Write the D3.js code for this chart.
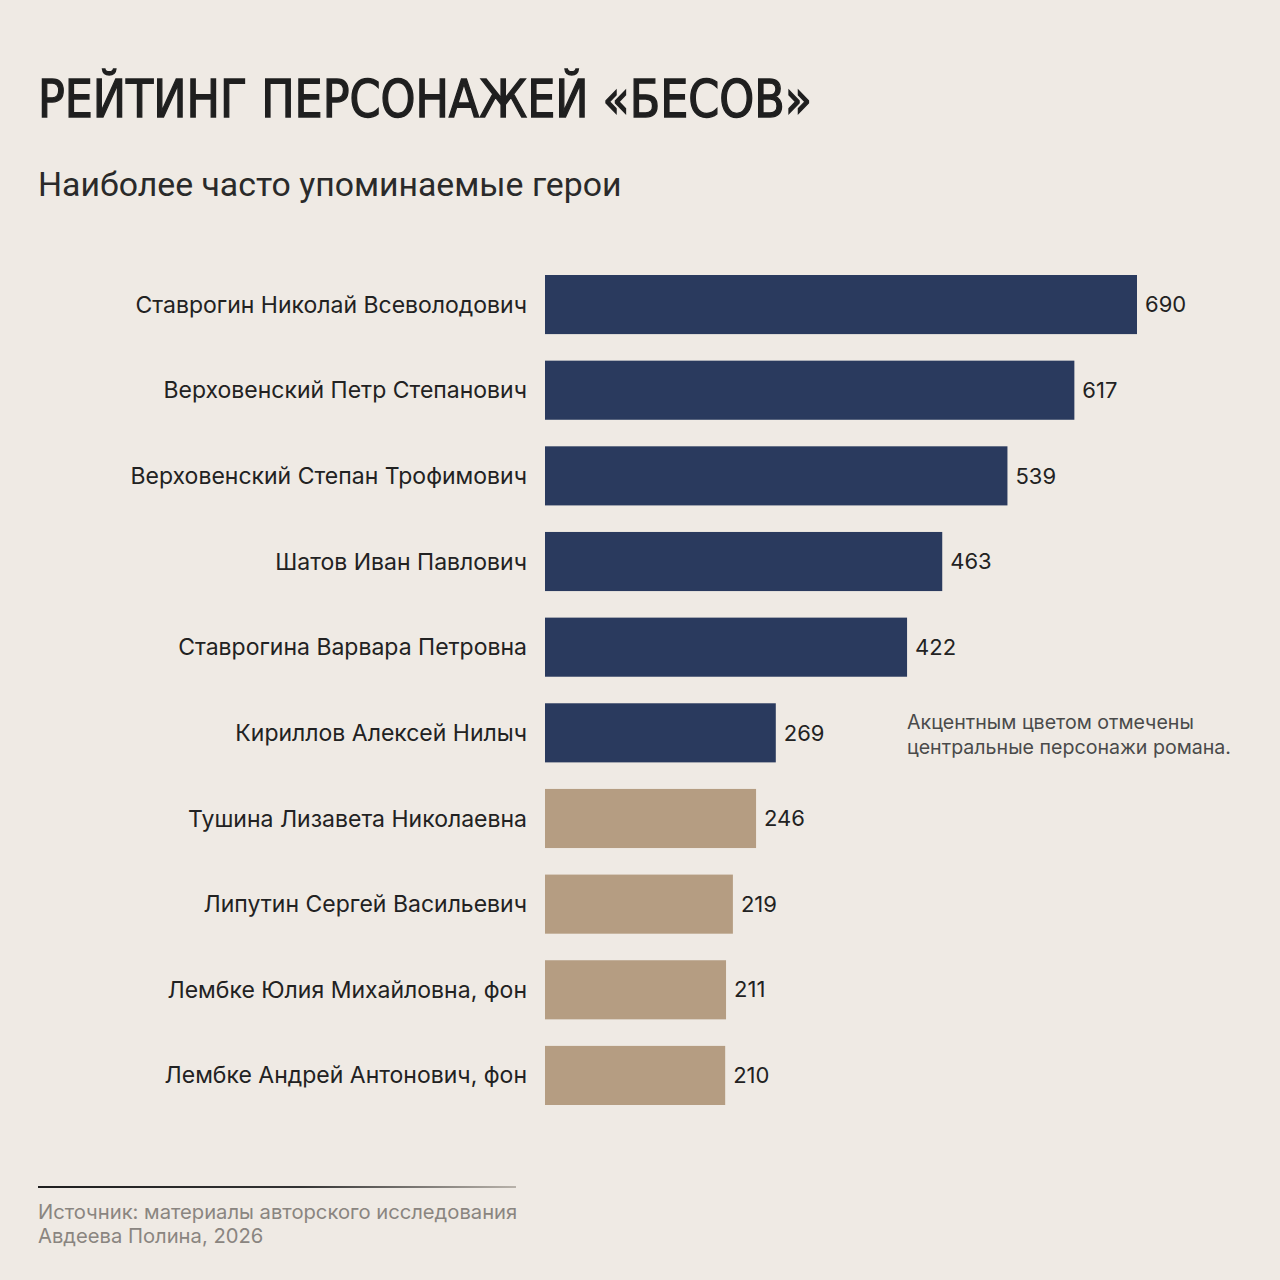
<!DOCTYPE html>
<html>
<head>
<meta charset="utf-8">
<script src="https://cdn.jsdelivr.net/npm/d3@7"></script>
<style>
  html, body { margin: 0; padding: 0; background: #efeae4; }
  svg { display: block; }
</style>
</head>
<body>
<svg id="chart" width="1280" height="1280"></svg>
<script>
// --- data ---
var names = [
  'Ставрогин Николай Всеволодович',
  'Верховенский Петр Степанович',
  'Верховенский Степан Трофимович',
  'Шатов Иван Павлович',
  'Ставрогина Варвара Петровна',
  'Кириллов Алексей Нилыч',
  'Тушина Лизавета Николаевна',
  'Липутин Сергей Васильевич',
  'Лембке Юлия Михайловна, фон',
  'Лембке Андрей Антонович, фон'
];
var mentions = [690, 617, 539, 463, 422, 269, 246, 219, 211, 210];
var central = [true, true, true, true, true, true, false, false, false, false];

var titleText = 'РЕЙТИНГ ПЕРСОНАЖЕЙ «БЕСОВ»';
var subtitleText = 'Наиболее часто упоминаемые герои';
var noteLines = ['Акцентным цветом отмечены', 'центральные персонажи романа.'];
var sourceLines = ['Источник: материалы авторского исследования', 'Авдеева Полина, 2026'];

var svg = d3.select('#chart');
var font = 'Inter, "Noto Sans", sans-serif';

// header
svg.append('text')
  .attr('x', 38).attr('y', 117)
  .attr('textLength', 774).attr('lengthAdjust', 'spacingAndGlyphs')
  .style('font-family', '"Liberation Sans Narrow", "DejaVu Sans Condensed", sans-serif')
  .style('font-size', '52px')
  .style('fill', '#1f1f1f')
  .style('stroke', '#1f1f1f')
  .style('stroke-width', 1.3)
  .text(titleText);

svg.append('text')
  .attr('x', 38).attr('y', 196)
  .style('font-family', 'Roboto, sans-serif')
  .style('font-size', '33.8px')
  .style('fill', '#2a2a2a')
  .text(subtitleText);

// scales
var x = d3.scaleLinear().domain([0, 690]).range([545, 1137]);
var y = d3.scaleBand().domain(names).range([275, 1105]).paddingInner(0.31).paddingOuter(0);

var rows = svg.append('g').selectAll('g').data(names).join('g');

rows.append('rect')
  .attr('x', x(0))
  .attr('y', function (d) { return y(d); })
  .attr('width', function (d, i) { return x(mentions[i]) - x(0); })
  .attr('height', y.bandwidth())
  .attr('fill', function (d, i) { return central[i] ? '#2a3a5e' : '#b59d82'; });

rows.append('text')
  .attr('x', 527)
  .attr('y', function (d) { return y(d) + y.bandwidth() / 2; })
  .attr('dy', '0.35em')
  .attr('text-anchor', 'end')
  .style('font-family', font)
  .style('font-size', '23px')
  .style('fill', '#222')
  .text(function (d) { return d; });

rows.append('text')
  .attr('x', function (d, i) { return x(mentions[i]) + 8; })
  .attr('y', function (d) { return y(d) + y.bandwidth() / 2; })
  .attr('dy', '0.35em')
  .style('font-family', font)
  .style('font-size', '22px')
  .style('fill', '#222')
  .text(function (d, i) { return mentions[i]; });

// note
svg.append('g').selectAll('text').data(noteLines).join('text')
  .attr('x', 907)
  .attr('y', function (d, i) { return 729 + i * 25; })
  .style('font-family', font)
  .style('font-size', '19.6px')
  .style('fill', '#4a4a4a')
  .text(function (d) { return d; });

// footer rule, fading out to the right
var grad = svg.append('defs').append('linearGradient').attr('id', 'fade');
grad.append('stop').attr('offset', '0%').attr('stop-color', '#1f1f1f');
grad.append('stop').attr('offset', '55%').attr('stop-color', '#333');
grad.append('stop').attr('offset', '100%').attr('stop-color', '#b8b2aa');
svg.append('rect')
  .attr('x', 38).attr('y', 1186)
  .attr('width', 478).attr('height', 2)
  .attr('fill', 'url(#fade)');

svg.append('g').selectAll('text').data(sourceLines).join('text')
  .attr('x', 38)
  .attr('y', function (d, i) { return 1219 + i * 24; })
  .style('font-family', font)
  .style('font-size', '20.2px')
  .style('fill', '#8a8580')
  .text(function (d) { return d; });
</script>
</body>
</html>
